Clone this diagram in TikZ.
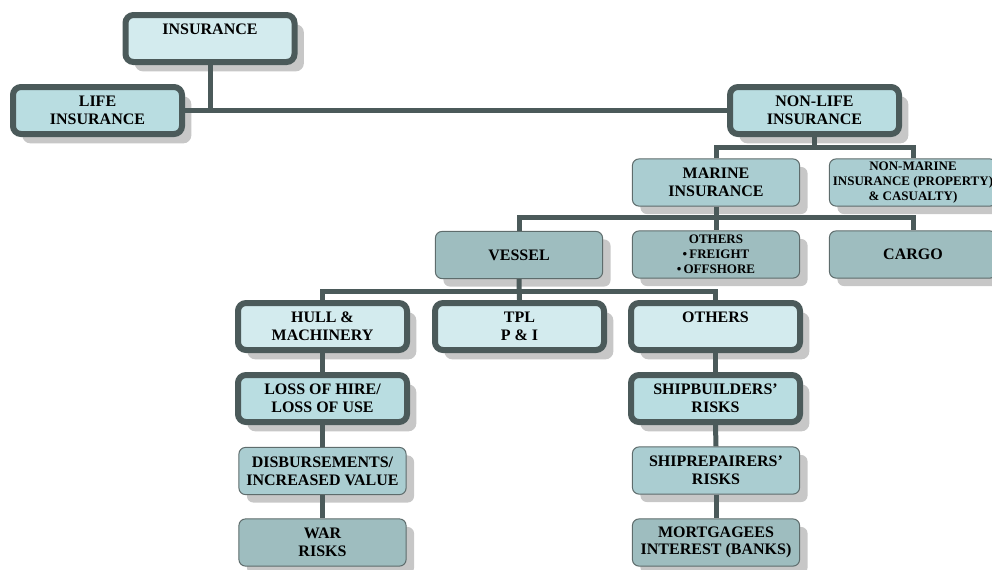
\documentclass[tikz,border=0pt]{standalone}
\usepackage{fontspec}
\setmainfont{Liberation Serif}
\usepackage{xcolor}
\usetikzlibrary{shadows}
\definecolor{edgegray}{HTML}{4B5A5A}
\definecolor{thingray}{HTML}{5E6C6C}
\definecolor{palecyan}{HTML}{D3EBEE}
\definecolor{softcyan}{HTML}{B9DDE1}
\definecolor{midcyan}{HTML}{AACDD1}
\definecolor{darkcyan}{HTML}{9EBDBF}

\begin{document}
\begin{tikzpicture}[x=0.75pt, y=-0.75pt,
    thicknode/.style={rectangle, rounded corners=6pt, draw=edgegray, line width=4.5pt, minimum width=126.75pt, minimum height=35.25pt, inner sep=1pt, align=center, font=\fontsize{12}{13.3}\selectfont\bfseries, drop shadow={shadow xshift=7pt, shadow yshift=-7pt, fill=black!22, opacity=1}},
    thinnode/.style={rectangle, rounded corners=5pt, draw=thingray, line width=0.75pt, minimum width=125.4pt, minimum height=35.4pt, inner sep=1pt, align=center, font=\fontsize{12}{13.3}\selectfont\bfseries, drop shadow={shadow xshift=6pt, shadow yshift=-6pt, fill=black!22, opacity=1}},
    smalltext/.style={font=\fontsize{9.75}{11.25}\selectfont\bfseries},
    link/.style={draw=edgegray, line width=3.75pt}
]
    \useasboundingbox (0,0) rectangle (992,569);

    \node[thicknode, fill=palecyan] (ins) at (210, 38.5) {INSURANCE\\~};
    \node[thicknode, fill=softcyan] (life) at (97.5, 110.5) {LIFE\\INSURANCE};
    \node[thicknode, fill=softcyan] (nonlife) at (814.5, 110.5) {NON-LIFE\\INSURANCE};

    \node[thinnode, fill=midcyan] (marine) at (716, 182.5) {MARINE\\INSURANCE};
    \node[thinnode, fill=midcyan, smalltext] (nonmarine) at (913, 182.5) {NON-MARINE\\INSURANCE (PROPERTY)\\\& CASUALTY)};

    \node[thinnode, fill=darkcyan] (vessel) at (519, 255) {VESSEL};
    \node[thinnode, fill=darkcyan, smalltext] (others) at (716, 254.5) {OTHERS\\\textbullet\,FREIGHT\\\textbullet\,OFFSHORE};
    \node[thinnode, fill=darkcyan] (cargo) at (913, 254.5) {CARGO};

    \node[thicknode, fill=palecyan] (hull) at (322.5, 326.5) {HULL \&\\MACHINERY};
    \node[thicknode, fill=palecyan] (tpl) at (519.5, 326.5) {TPL\\P \& I};
    \node[thicknode, fill=palecyan] (othervessel) at (715.5, 326.5) {OTHERS\\~};

    \node[thicknode, fill=softcyan] (hire) at (322.5, 398.5) {LOSS OF HIRE/\\LOSS OF USE};
    \node[thinnode, fill=midcyan] (disb) at (322.5, 471) {DISBURSEMENTS/\\INCREASED VALUE};
    \node[thinnode, fill=darkcyan] (war) at (322.5, 542.5) {WAR\\RISKS};

    \node[thicknode, fill=softcyan] (builders) at (715.5, 398.5) {SHIPBUILDERS'\\RISKS};
    \node[thinnode, fill=midcyan] (repairers) at (716, 470.5) {SHIPREPAIRERS'\\RISKS};
    \node[thinnode, fill=darkcyan] (mortgage) at (716, 542.5) {MORTGAGEES\\INTEREST (BANKS)};

    \coordinate (busA) at (814.5, 147);
    \coordinate (busB) at (716, 217);
    \coordinate (busC) at (519, 291);

    \draw[link] (life.east) -- (nonlife.west); \draw[link] (ins.south) -- (ins.south |- life.east);
    \draw[link] (nonlife.south) -- (busA); \draw[link] (marine.north) |- (busA) -| (nonmarine.north);
    \draw[link] (marine.south) -- (others.north); \draw[link] (vessel.north) |- (busB) -| (cargo.north);
    \draw[link] (vessel.south) -- (tpl.north); \draw[link] (hull.north) |- (busC) -| (othervessel.north);

    \foreach \a/\b in {hull/hire, hire/disb, disb/war, othervessel/builders, builders/repairers, repairers/mortgage}
        \draw[link] (\a.south) -- (\b.north);
\end{tikzpicture}
\end{document}
